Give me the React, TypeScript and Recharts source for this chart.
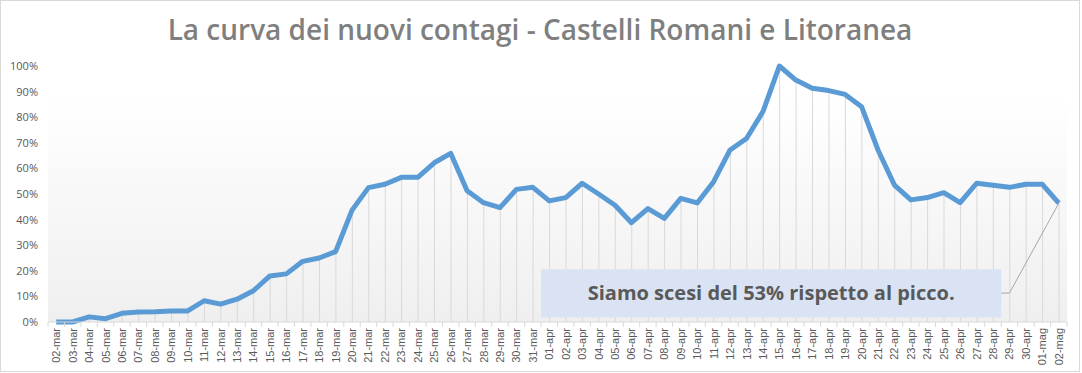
import React from 'react'
import {
  ComposedChart,
  Bar,
  Line,
  XAxis,
  YAxis,
  CartesianGrid,
  ReferenceArea,
  ReferenceLine,
} from 'recharts'

// daily dates on the x axis
const dates = [
  '02-mar', '03-mar', '04-mar', '05-mar', '06-mar', '07-mar', '08-mar', '09-mar', '10-mar', '11-mar',
  '12-mar', '13-mar', '14-mar', '15-mar', '16-mar', '17-mar', '18-mar', '19-mar', '20-mar', '21-mar',
  '22-mar', '23-mar', '24-mar', '25-mar', '26-mar', '27-mar', '28-mar', '29-mar', '30-mar', '31-mar',
  '01-apr', '02-apr', '03-apr', '04-apr', '05-apr', '06-apr', '07-apr', '08-apr', '09-apr', '10-apr',
  '11-apr', '12-apr', '13-apr', '14-apr', '15-apr', '16-apr', '17-apr', '18-apr', '19-apr', '20-apr',
  '21-apr', '22-apr', '23-apr', '24-apr', '25-apr', '26-apr', '27-apr', '28-apr', '29-apr', '30-apr',
  '01-mag', '02-mag',
]

// new infections, % of the peak
const contagi = [
  0, 0, 2, 1.3, 3.4, 3.9, 4, 4.3, 4.3, 8.3,
  7, 8.9, 12.2, 18, 18.8, 23.7, 25, 27.5, 43.7, 52.5,
  53.8, 56.5, 56.5, 62.2, 65.9, 51.3, 46.6, 44.7, 51.8, 52.6,
  47.3, 48.6, 54.2, 50, 45.6, 38.8, 44.3, 40.5, 48.3, 46.5,
  54.8, 67.2, 71.7, 82.2, 100, 94.5, 91.3, 90.4, 88.9, 84.1,
  67.2, 53.5, 47.7, 48.6, 50.5, 46.6, 54.2, 53.4, 52.6, 53.8,
  53.8, 46.4,
]

const yTicks = [0, 10, 20, 30, 40, 50, 60, 70, 80, 90, 100]

const title = 'La curva dei nuovi contagi - Castelli Romani e Litoranea'
const note = 'Siamo scesi del 53% rispetto al picco.'

const data = dates.map((d, i) => ({ date: d, value: contagi[i] }))

const CHART_W = 1078
const CHART_H = 370
const MARGIN = { top: 65, right: 12, bottom: 0, left: 0 }
const Y_W = 47
const STEP = (CHART_W - MARGIN.left - MARGIN.right - Y_W) / dates.length

function DateTick(props: any) {
  const { x, y, payload, index } = props
  const last = index === dates.length - 1
  return (
    <g transform={`translate(${x},${y})`}>
      <line x1={-STEP / 2} y1={0} x2={-STEP / 2} y2={5} stroke="#d9d9d9" />
      {last && <line x1={STEP / 2} y1={0} x2={STEP / 2} y2={5} stroke="#d9d9d9" />}
      <text
        transform="rotate(-90)"
        x={-6}
        y={4}
        textAnchor="end"
        fontSize={11}
        fontFamily="Liberation Sans, Arial, sans-serif"
        fill="#595959"
      >
        {payload.value}
      </text>
    </g>
  )
}

export default function App() {
  return (
    <div
      style={{
        position: 'absolute',
        left: 0,
        top: 0,
        width: 1080,
        height: 372,
        border: '1px solid #d9d9d9',
        boxSizing: 'border-box',
        background: '#fff',
      }}
    >
      <div
        style={{
          position: 'absolute',
          left: 0,
          top: 14,
          width: CHART_W,
          textAlign: 'center',
          fontFamily: 'Open Sans, sans-serif',
          fontSize: 28,
          fontWeight: 600,
          lineHeight: '28px',
          color: '#7f7f7f',
        }}
      >
        {title}
      </div>
      <ComposedChart width={CHART_W} height={CHART_H} data={data} margin={MARGIN}>
        <defs>
          <linearGradient id="plotBg" x1="0" y1="0" x2="0" y2="1">
            <stop offset="0" stopColor="#ffffff" />
            <stop offset="0.12" stopColor="#ffffff" />
            <stop offset="1" stopColor="#efefef" />
          </linearGradient>
        </defs>
        <CartesianGrid horizontal={false} vertical={false} fill="url(#plotBg)" />
        <XAxis
          dataKey="date"
          interval={0}
          tickLine={false}
          tickSize={0}
          tickMargin={0}
          height={49}
          axisLine={{ stroke: '#d9d9d9' }}
          tick={<DateTick />}
        />
        <YAxis
          width={Y_W}
          domain={[0, 100]}
          ticks={yTicks}
          tickFormatter={(v: number) => `${v}%`}
          axisLine={false}
          tickLine={false}
          tickSize={0}
          tickMargin={10}
          tick={{ fontSize: 11, fill: '#595959', fontFamily: 'Open Sans, sans-serif' }}
        />
        <Bar dataKey="value" barSize={1} fill="#d9d9d9" isAnimationActive={false} />
        <ReferenceLine
          segment={[{ x: '28-apr', y: 11.3 }, { x: '29-apr', y: 11.3 }]}
          stroke="#a6a6a6"
          strokeWidth={1}
          zIndex={340}
        />
        <ReferenceLine
          segment={[{ x: '29-apr', y: 11.3 }, { x: '02-mag', y: 46.4 }]}
          stroke="#a6a6a6"
          strokeWidth={1}
          zIndex={340}
        />
        <ReferenceArea
          x1="01-apr"
          x2="28-apr"
          y1={1.8}
          y2={20.6}
          fill="#dae3f3"
          fillOpacity={1}
          stroke="none"
          zIndex={350}
          label={{
            value: note,
            position: 'center',
            fill: '#595959',
            fontSize: 20,
            fontWeight: 700,
            fontFamily: 'Open Sans, sans-serif',
          }}
        />
        <Line
          type="linear"
          dataKey="value"
          stroke="#5b9bd5"
          strokeWidth={5}
          strokeLinejoin="round"
          dot={false}
          isAnimationActive={false}
        />
      </ComposedChart>
    </div>
  )
}
